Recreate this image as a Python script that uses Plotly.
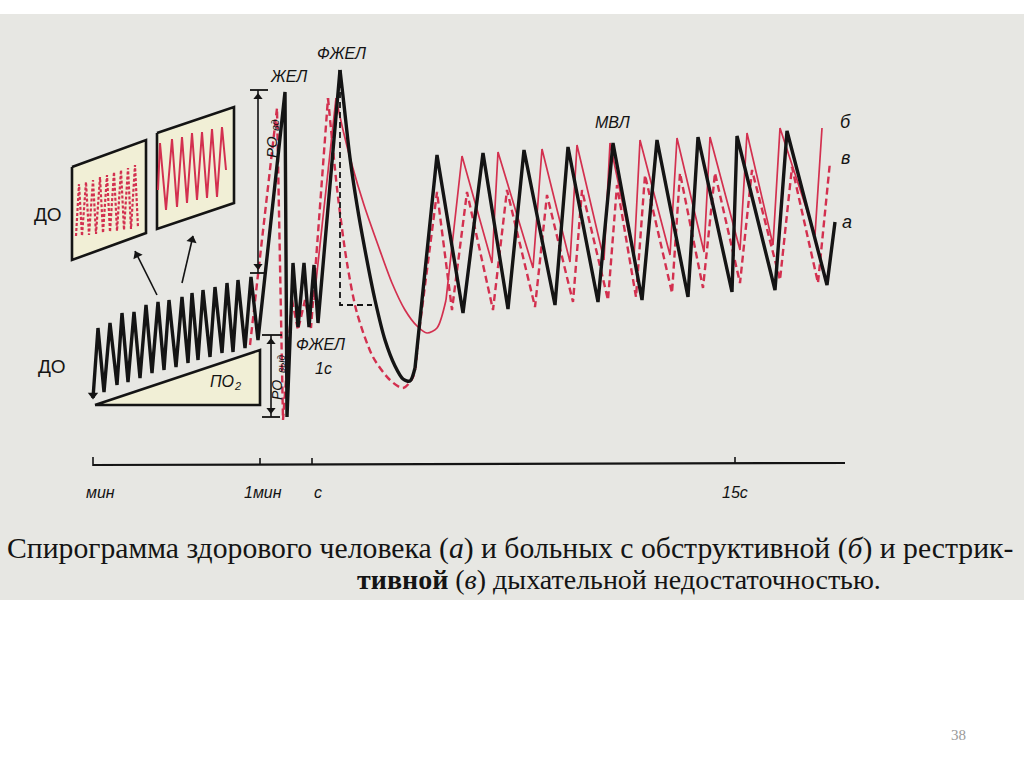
import plotly.graph_objects as go

# Спирограмма: здоровый (а), обструкция (б), рестрикция (в)
# координаты вершин (пиксели страницы 1024x767)

# а - здоровый, чёрная линия
a_rest_x = [93, 98, 104, 110, 117, 122, 128, 134, 140, 146, 152, 158, 164, 169, 176,
            182, 188, 192, 198, 203, 210, 215, 222, 227, 233, 238, 245, 251, 258,
            285, 287, 293, 298, 304, 309, 314, 318, 340]
a_rest_y = [398, 328, 392, 323, 385, 313, 382, 312, 378, 305, 373, 302, 370, 300, 367,
            297, 363, 293, 360, 290, 357, 287, 353, 283, 352, 280, 348, 277, 340,
            92, 417, 263, 327, 263, 327, 265, 323, 70]
a_fvc_x = [340, 344, 350, 357, 365, 375, 385, 395, 403, 410, 415]
a_fvc_y = [70, 105, 158, 205, 250, 300, 340, 366, 379, 381, 368]
a_mvv_x = [415, 437, 463, 483, 508, 524, 555, 568, 598, 613, 642, 657, 688, 698, 732,
           737, 775, 787, 827, 835]
a_mvv_y = [368, 155, 313, 153, 309, 150, 305, 147, 302, 143, 300, 140, 297, 137, 292,
           136, 290, 131, 285, 222]

# б - обструкция, красная сплошная
b_rise_x = [314, 336]
b_rise_y = [300, 98]
b_fvc_x = [336, 343, 352, 364, 378, 392, 405, 417, 427, 437, 446]
b_fvc_y = [98, 130, 165, 205, 245, 283, 310, 326, 333, 328, 300]
b_mvv_x = [446, 462, 492, 498, 533, 542, 570, 577, 604, 610, 634, 640, 670, 677, 704,
           710, 740, 747, 773, 780, 815, 822]
b_mvv_y = [300, 156, 263, 152, 268, 149, 262, 145, 260, 143, 258, 140, 255, 138, 252,
           137, 250, 133, 245, 128, 235, 128]

# в - рестрикция, красная пунктирная
c_rest_x = [250, 277, 283, 292, 298, 305, 311, 328]
c_rest_y = [345, 108, 420, 300, 330, 300, 328, 98]
c_fvc_x = [328, 338, 347, 357, 373, 390, 403, 413, 418]
c_fvc_y = [98, 197, 263, 313, 357, 380, 388, 377, 340]
c_mvv_x = [418, 437, 452, 467, 493, 507, 535, 547, 573, 582, 608, 617, 636, 645, 672,
           680, 703, 715, 740, 752, 780, 792, 818, 830]
c_mvv_y = [340, 192, 310, 192, 310, 190, 307, 195, 302, 190, 300, 185, 297, 175, 293,
           173, 288, 173, 283, 170, 280, 167, 283, 162]

# ФЖЕЛ за 1 с
fev1_x = [340, 340, 372]
fev1_y = [72, 305, 305]

# врезки ДО для б и в
inset1_x = [72, 146, 146, 72, 72]
inset1_y = [167, 140, 233, 260, 167]
inset2_x = [157, 234, 234, 157, 157]
inset2_y = [133, 107, 203, 229, 133]
ins1_x = [76, 79, 82, 86, 89, 93, 96, 100, 103, 107, 110, 114, 117, 121, 124, 128, 131, 135, 138]
ins1_y = [236, 184, 236, 182, 235, 180, 234, 177, 233, 175, 232, 172, 231, 170, 230, 168, 229, 165, 228]
ins2_x = [158, 160, 166, 172, 177, 182, 187, 192, 197, 202, 207, 212, 217, 222, 226]
ins2_y = [190, 143, 210, 139, 207, 137, 203, 133, 200, 132, 198, 129, 197, 127, 170]

# треугольник ПО2
tri_x = [95, 260, 260, 95]
tri_y = [405, 350, 405, 405]

# отметки РО (вд и выд)
ro_tick_x = [250, 268, None, 250, 266, None, 262, 282, None, 262, 280]
ro_tick_y = [90, 90, None, 273, 273, None, 335, 335, None, 417, 417]
ro_shaft_x = [258, 258, None, 271, 271]
ro_shaft_y = [90, 273, None, 335, 417]
ro_head_x = [258, 258, 271, 271]
ro_head_y = [97, 266, 342, 410]
ro_head_angle = [0, 180, 0, 180]

# стрелки к врезкам и начало записи
ptr_x = [157, 135, None, 182, 193]
ptr_y = [295, 251, None, 283, 236]
ptr_head_x = [137, 192, 93]
ptr_head_y = [255, 240, 395]
ptr_head_angle = [-27, 13, 180]

# ось времени
axis_x = [93, 845]
axis_y = [465, 463]
tick_x = [93, 93, None, 260, 260, None, 312, 312, None, 735, 735]
tick_y = [466, 457, None, 465, 458, None, 465, 458, None, 464, 457]
time_labels = ["мин", "1мин", "с", "15с"]
time_label_x = [100, 263, 318, 735]

BLACK = "#141414"
RED = "#d3304f"
PALE = "#f1efd6"

fig = go.Figure()


def line(x, y, color, width, dash="solid", shape="linear", fill=None, fillcolor=None):
    fig.add_trace(go.Scatter(
        x=x, y=y, mode="lines",
        line=dict(color=color, width=width, dash=dash, shape=shape, smoothing=0.8),
        fill=fill, fillcolor=fillcolor,
        hoverinfo="skip", showlegend=False,
    ))


def heads(x, y, angle, size=9):
    fig.add_trace(go.Scatter(
        x=x, y=y, mode="markers",
        marker=dict(symbol="triangle-up", size=size, angle=angle, color=BLACK,
                    line=dict(width=0)),
        hoverinfo="skip", showlegend=False,
    ))


# врезки и треугольник
line(inset1_x, inset1_y, BLACK, 2.6, fill="toself", fillcolor=PALE)
line(inset2_x, inset2_y, BLACK, 2.6, fill="toself", fillcolor=PALE)
line(tri_x, tri_y, BLACK, 2.6, fill="toself", fillcolor=PALE)
line(ins1_x, ins1_y, RED, 2.2, dash="3px,2px")
line(ins2_x, ins2_y, RED, 2.0)

# красные кривые
line(c_rest_x, c_rest_y, RED, 2.4, dash="7px,4px")
line(c_fvc_x, c_fvc_y, RED, 2.4, dash="7px,4px", shape="spline")
line(c_mvv_x, c_mvv_y, RED, 2.4, dash="7px,4px")
line(b_rise_x, b_rise_y, RED, 1.7)
line(b_fvc_x, b_fvc_y, RED, 1.7, shape="spline")
line(b_mvv_x, b_mvv_y, RED, 1.7)

# чёрная кривая
line(fev1_x, fev1_y, BLACK, 1.8, dash="6px,4px")
line(a_rest_x, a_rest_y, BLACK, 3.4)
line(a_fvc_x, a_fvc_y, BLACK, 3.4, shape="spline")
line(a_mvv_x, a_mvv_y, BLACK, 3.4)

# РО, стрелки и ось
line(ro_tick_x, ro_tick_y, BLACK, 1.8)
line(ro_shaft_x, ro_shaft_y, BLACK, 1.6)
heads(ro_head_x, ro_head_y, ro_head_angle, size=8)
line(ptr_x, ptr_y, BLACK, 1.6)
heads(ptr_head_x, ptr_head_y, ptr_head_angle, size=9)
line(axis_x, axis_y, BLACK, 2.2)
line(tick_x, tick_y, BLACK, 1.6)

ann = []


def text(x, y, s, size=15, color=BLACK, angle=0, family="Liberation Sans", xanchor="center"):
    ann.append(dict(x=x, y=y, xref="x", yref="y", text=s, showarrow=False,
                    font=dict(size=size, color=color, family=family),
                    textangle=angle, xanchor=xanchor, yanchor="middle"))


text(48, 214, "ДО", size=19)
text(52, 366, "ДО", size=19)
text(288, 76, "<i>ЖЕЛ</i>", size=16)
text(341, 53, "<i>ФЖЕЛ</i>", size=16)
text(320, 344, "<i>ФЖЕЛ</i>", size=16)
text(323, 368, "<i>1с</i>", size=16)
text(612, 122, "<i>МВЛ</i>", size=16)
text(845, 122, "<i>б</i>", size=18)
text(845, 158, "<i>в</i>", size=18)
text(847, 222, "<i>а</i>", size=18)
# ПО2, РОвд, РОвыд: индексы отдельным мелким текстом
text(222, 381, "<i>ПО</i>", size=16)
text(237, 386, "<i>2</i>", size=11)
text(271, 147, "<i>РО</i>", size=15, angle=-90)
text(275, 125, "<i>вд</i>", size=11, angle=-90)
text(277, 390, "<i>РО</i>", size=14, angle=-90)
text(281, 364, "<i>выд</i>", size=10, angle=-90)
for lab, lx in zip(time_labels, time_label_x):
    text(lx, 492, "<i>" + lab + "</i>", size=16)

text(5, 548, "Спирограмма здорового человека (<i>а</i>) и больных с обструктивной (<i>б</i>) и рестрик-",
     size=29.7, family="Liberation Serif", xanchor="left")
text(355, 579, "<b>тивной</b> (<i>в</i>) дыхательной недостаточностью.",
     size=28, family="Liberation Serif", xanchor="left")
text(958, 735, "38", size=15, color="#9a9a9a", family="Liberation Serif")

fig.update_layout(
    width=1024, height=767,
    margin=dict(l=0, r=0, t=0, b=0),
    paper_bgcolor="white", plot_bgcolor="white",
    xaxis=dict(range=[0, 1024], visible=False, fixedrange=True),
    yaxis=dict(range=[767, 0], visible=False, fixedrange=True),
    shapes=[dict(type="rect", xref="x", yref="y", x0=0, y0=14, x1=1024, y1=600,
                 fillcolor="#e7e7e3", line=dict(width=0), layer="below")],
    annotations=ann,
)

fig.write_html("out.html", config={"displayModeBar": False},
               post_script="document.body.style.margin='0';document.body.style.overflow='hidden';")
